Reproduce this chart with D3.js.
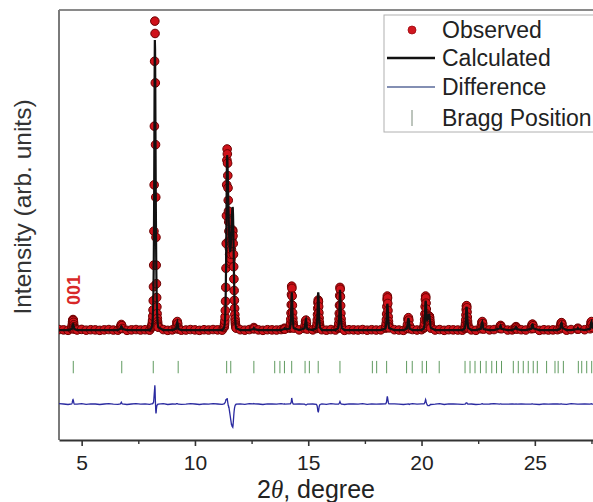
<!DOCTYPE html>
<html><head><meta charset="utf-8">
<script src="https://cdn.jsdelivr.net/npm/d3@7"></script>
<style>html,body{margin:0;padding:0;background:#fff;} svg{display:block;font-family:"Liberation Sans",Arial,sans-serif;}</style>
</head><body><svg id="c" width="593" height="502"></svg>
<script>
// ---------------- data ----------------
const xTicks = [5, 10, 15, 20, 25];
const xMinorTicks = [7.5, 12.5, 17.5, 22.5, 27.5];
const legendLabels = ["Observed", "Calculated", "Difference", "Bragg Position"];
const peakLabel = {text: "001", twoTheta: 4.62};

// Bragg reflection positions (2θ, degree)
const braggPositions = [4.63, 6.77, 8.16, 9.26, 11.40, 11.58, 12.60, 13.52, 13.75, 13.95, 14.27,
  14.86, 15.05, 15.44, 16.40, 17.83, 18.02, 18.46, 19.34, 19.59, 20.03, 20.22, 20.78,
  21.92, 22.14, 22.36, 22.60, 22.85, 23.10, 23.31, 23.53, 24.05, 24.27, 24.49, 24.71,
  24.93, 25.11, 25.52, 25.89, 26.03, 26.26, 26.92, 27.07, 27.29, 27.51];

// points across the reflections: [2θ, observed, calculated]
const peakPoints = [
  [4.56,0.4,0.3],[4.57,0.7,0.5],[4.58,1.2,0.8],[4.59,1.9,1.2],[4.60,2.7,1.6],[4.61,3.2,1.8],[4.62,3.4,1.9],
  [4.63,3.1,1.8],[4.64,2.5,1.5],[4.65,1.7,1.1],[4.66,1.1,0.8],[4.67,0.6,0.5],[4.68,0.3,0.3],
  [6.71,0.5,0.4],[6.73,1.3,1.0],[6.75,1.8,1.2],[6.77,1.4,1.1],[6.79,0.5,0.4],
  [8.08,0.8,0.7],[8.09,1.0,0.9],[8.10,1.3,1.2],[8.11,1.7,1.6],[8.12,2.3,2.2],[8.13,3.2,3.0],[8.14,4.5,4.3],
  [8.15,6.5,6.2],[8.16,9.5,9.0],[8.17,14,13.5],[8.18,21,20],[8.19,32,30],[8.20,47,44],[8.21,66,62],
  [8.22,87,82],[8.23,100,93.9],[8.24,96,91],[8.25,80,78],[8.26,60,60],[8.27,43,45],[8.28,30,33],
  [8.29,21,23.5],[8.30,15,16.5],[8.31,10.5,11.5],[8.32,7.5,8],[8.33,5.3,5.6],[8.34,3.8,4],[8.35,2.7,2.8],
  [8.36,1.9,2.0],[8.37,1.3,1.3],[8.38,0.9,0.9],
  [9.16,0.4,0.4],[9.18,1.2,1.0],[9.20,2.4,2.2],[9.22,2.75,2.6],[9.24,2.0,1.9],[9.26,0.8,0.8],[9.28,0.3,0.3],
  [11.28,0.8,0.7],[11.29,1.1,1.0],[11.30,1.5,1.3],[11.31,2.1,1.8],[11.32,3.0,2.6],[11.33,4.3,3.8],
  [11.34,6.3,5.6],[11.35,9.3,8.4],[11.36,13.8,12.6],[11.37,20,18.5],[11.38,28,26.5],[11.39,37,35.5],
  [11.40,47,45.5],[11.41,55,53.5],[11.42,58.6,56.6],[11.43,57,55.5],[11.44,54,53],[11.45,50,49.5],
  [11.46,46,46],[11.47,42,42.5],[11.48,38.5,39],[11.49,35,36],[11.50,32,33],[11.51,29,30.5],
  [11.52,26.5,28.5],[11.53,24.5,27],[11.54,23,26],[11.55,22,25.5],[11.56,21.5,25.5],[11.57,21.5,26],
  [11.58,22,27],[11.59,23,28.5],[11.60,24.5,30.5],[11.61,26,32.5],[11.62,28,34.5],[11.63,29.5,36.5],
  [11.64,31,38],[11.65,32,39.2],[11.66,32.4,39.8],[11.67,32,39.5],[11.68,30.5,37.5],[11.69,28,34],
  [11.70,24.5,29.5],[11.71,20.5,24.5],[11.72,16.5,19.5],[11.73,12.8,15],[11.74,9.6,11.2],[11.75,7.0,8.1],
  [11.76,5.0,5.8],[11.77,3.6,4.1],[11.78,2.6,2.9],[11.79,1.8,2.0],[11.80,1.3,1.4],[11.81,0.9,1.0],[11.82,0.6,0.6],
  [12.58,0.4,0.3],[12.60,0.8,0.6],[12.62,0.4,0.3],
  [13.93,0.3,0.3],[13.95,0.6,0.5],[13.97,0.3,0.3],
  [14.19,0.6,0.5],[14.20,0.9,0.8],[14.21,1.4,1.3],[14.22,2.2,2.0],[14.23,3.5,3.2],[14.24,5.5,5.0],
  [14.25,8.2,7.4],[14.26,11.5,10.2],[14.27,14.2,12.2],[14.28,13.5,11.8],[14.29,11,9.8],[14.30,8,7.3],
  [14.31,5.6,5.1],[14.32,3.8,3.5],[14.33,2.5,2.4],[14.34,1.6,1.5],[14.35,1.0,1.0],[14.36,0.6,0.6],
  [14.84,0.5,0.5],[14.86,1.5,1.6],[14.88,2.8,3.0],[14.90,3.2,3.4],[14.92,2.3,2.5],[14.94,1.0,1.1],[14.96,0.3,0.3],
  [15.36,0.5,0.6],[15.37,0.8,1.0],[15.38,1.3,1.6],[15.39,2.1,2.6],[15.40,3.3,4.2],[15.41,5.0,6.4],
  [15.42,7.0,9.0],[15.43,8.8,11.2],[15.44,9.7,12.2],[15.45,9.2,11.6],[15.46,7.6,9.6],[15.47,5.6,7.0],
  [15.48,3.9,4.8],[15.49,2.6,3.2],[15.50,1.7,2.1],[15.51,1.1,1.3],[15.52,0.7,0.8],
  [16.32,0.6,0.6],[16.33,0.9,0.9],[16.34,1.4,1.4],[16.35,2.2,2.1],[16.36,3.5,3.3],[16.37,5.4,5.1],
  [16.38,8.0,7.6],[16.39,11.2,10.6],[16.40,13.8,13.0],[16.41,13.2,12.6],[16.42,10.8,10.4],[16.43,7.9,7.6],
  [16.44,5.4,5.2],[16.45,3.6,3.5],[16.46,2.3,2.3],[16.47,1.5,1.5],[16.48,0.9,0.9],[16.49,0.6,0.6],
  [18.41,0.6,0.5],[18.42,0.9,0.8],[18.43,1.4,1.2],[18.44,2.2,1.8],[18.45,3.4,2.8],[18.46,5.2,4.2],
  [18.47,7.6,6.0],[18.48,9.9,7.8],[18.49,11.0,8.5],[18.50,10.4,8.2],[18.51,8.6,6.9],[18.52,6.3,5.1],
  [18.53,4.3,3.6],[18.54,2.8,2.4],[18.55,1.8,1.6],[18.56,1.1,1.0],[18.57,0.7,0.6],
  [19.36,0.5,0.5],[19.38,1.8,1.8],[19.40,3.4,3.3],[19.42,4,3.9],[19.44,3.2,3.2],[19.46,1.5,1.6],[19.48,0.4,0.4],
  [20.10,0.6,0.5],[20.11,0.9,0.8],[20.12,1.4,1.2],[20.13,2.2,1.9],[20.14,3.4,3.0],[20.15,5.2,4.6],
  [20.16,7.6,6.7],[20.17,9.9,8.7],[20.18,11.0,9.5],[20.19,10.4,9.1],[20.20,8.7,7.8],[20.21,6.8,6.2],
  [20.22,5.2,4.9],[20.23,4.0,3.9],[20.24,3.3,3.4],[20.25,3.0,3.2],[20.26,3.0,3.3],[20.27,3.2,3.6],
  [20.28,3.5,4.0],[20.29,3.7,4.2],[20.30,3.9,4.4],[20.31,4.2,4.7],[20.32,4.4,4.9],[20.33,4.5,5.0],
  [20.34,4.5,5.0],[20.35,4.3,4.7],[20.36,3.8,4.1],[20.37,3.0,3.3],[20.38,2.2,2.4],[20.39,1.5,1.6],
  [20.40,1.0,1.1],[20.41,0.6,0.7],
  [21.91,0.5,0.5],[21.92,0.8,0.8],[21.93,1.3,1.2],[21.94,2.1,2.0],[21.95,3.3,3.1],[21.96,4.9,4.6],
  [21.97,6.6,6.2],[21.98,7.7,7.3],[21.99,7.9,7.5],[22.00,7.2,6.8],[22.01,5.8,5.5],[22.02,4.2,4.0],
  [22.03,2.9,2.8],[22.04,1.9,1.8],[22.05,1.2,1.2],[22.06,0.7,0.7],
  [22.62,0.4,0.4],[22.64,1.4,1.3],[22.66,2.4,2.3],[22.68,2.75,2.6],[22.70,2.1,2.0],[22.72,0.9,0.9],[22.74,0.3,0.3],
  [23.45,0.5,0.5],[23.47,1.2,1.1],[23.49,1.5,1.4],[23.51,1.1,1.0],[23.53,0.4,0.4],
  [24.13,0.4,0.4],[24.15,0.9,0.9],[24.17,1.1,1.0],[24.19,0.8,0.8],[24.21,0.3,0.3],
  [24.84,0.4,0.4],[24.86,1.2,1.1],[24.88,1.8,1.7],[24.90,1.9,1.8],[24.92,1.4,1.4],[24.94,0.5,0.5],
  [26.12,0.4,0.4],[26.14,1.4,1.3],[26.16,2.2,2.1],[26.18,2.4,2.3],[26.20,1.8,1.8],[26.22,0.7,0.7],
  [26.88,0.3,0.3],[26.90,0.6,0.6],[26.92,0.3,0.3],
  [27.44,0.4,0.4],[27.46,1.4,1.3],[27.48,2.4,2.3],[27.50,2.75,2.6],[27.52,2.0,2.0],[27.54,0.8,0.8]
];

// background observations, one every 0.2° from 4.0° to 28.0°
const bgStart = 4.0, bgStep = 0.2;
const bgObs = [
  0.15,0.05,-0.1,0.1,0.0,0.2,-0.05,0.1,0.05,-0.1,
  0.05,0.15,0.0,-0.05,0.1,-0.1,0.05,0.15,0.0,0.1,
  -0.05,0.1,0.0,0.15,-0.1,0.05,0.1,-0.05,0.0,0.15,
  0.05,-0.1,0.1,0.0,0.15,0.05,-0.05,0.1,0.0,0.05,
  0.1,-0.05,0.15,0.0,0.05,-0.1,0.1,0.05,0.0,0.15,
  -0.05,0.1,0.0,0.05,0.15,-0.1,0.05,0.0,0.1,-0.05,
  0.15,0.0,0.05,-0.1,0.1,0.05,0.0,0.15,-0.05,0.1,
  0.0,0.05,-0.05,0.15,0.1,0.0,-0.1,0.05,0.15,0.0,
  0.1,-0.05,0.05,0.0,0.15,-0.1,0.1,0.05,0.0,-0.05,
  0.15,0.05,-0.1,0.1,0.0,0.05,0.15,-0.05,0.1,0.0,
  0.05,-0.05,0.1,0.0,0.15,0.05,-0.1,0.1,0.0,0.05,
  0.1,0.0,-0.05,0.15,0.05,-0.1,0.1,0.0,0.05,0.15,
  0.0
];
const calcBackground = 0;      // refined background level
const diffOffset = -24;        // vertical offset of the difference curve
const braggRange = [-10, -14]; // vertical extent of Bragg markers

// ---------------- build series ----------------
const bgPoints = bgObs.map((v, i) => [+(bgStart + i * bgStep).toFixed(2), v, calcBackground])
  .filter(p => !peakPoints.some(q => Math.abs(q[0] - p[0]) < 0.08));
const allPoints = bgPoints.concat(peakPoints).sort((a, b) => a[0] - b[0]);

// ---------------- chart ----------------
const W = 593, H = 502;
const svg = d3.select("#c");
const x = d3.scaleLinear().domain([4, 28]).range([59, 602.8]);
const y = d3.scaleLinear().domain([-35.6, 103.6]).range([440, 10]);

svg.append("defs").append("clipPath").attr("id", "clip")
  .append("rect").attr("x", 59).attr("y", 10).attr("width", 544).attr("height", 430);

// frame
svg.append("line").attr("x1", 59).attr("x2", W).attr("y1", 10).attr("y2", 10)
  .attr("stroke", "#8a8a8a").attr("stroke-width", 2);
svg.append("line").attr("x1", 59).attr("x2", 59).attr("y1", 10).attr("y2", 440)
  .attr("stroke", "#7a7a7a").attr("stroke-width", 2);

const plot = svg.append("g").attr("clip-path", "url(#clip)");

// Bragg markers
plot.selectAll("line.bragg").data(braggPositions).join("line").attr("class", "bragg")
  .attr("x1", d => x(d)).attr("x2", d => x(d))
  .attr("y1", y(braggRange[0])).attr("y2", y(braggRange[1]))
  .attr("stroke", "#5f9a5f").attr("stroke-width", 1);

// difference
plot.append("path").datum(allPoints)
  .attr("d", d3.line().x(d => x(d[0])).y(d => y(diffOffset + d[1] - d[2])))
  .attr("fill", "none").attr("stroke", "#2a2aa0").attr("stroke-width", 1.3);

// observed
plot.selectAll("circle.obs").data(allPoints).join("circle").attr("class", "obs")
  .attr("cx", d => x(d[0])).attr("cy", d => y(d[1])).attr("r", 4.3)
  .attr("fill", "#cf121a").attr("stroke", "#6a0000").attr("stroke-width", 1);

// calculated
plot.append("path").datum(allPoints)
  .attr("d", d3.line().x(d => x(d[0])).y(d => y(d[2])))
  .attr("fill", "none").attr("stroke", "#111").attr("stroke-width", 2.2);

// x axis
const ax = svg.append("g").attr("transform", "translate(0,440)")
  .call(d3.axisBottom(x).tickValues(xTicks).tickSize(6).tickPadding(9).tickSizeOuter(0));
ax.select(".domain").attr("stroke", "#333").attr("stroke-width", 2);
ax.selectAll(".tick line").attr("stroke", "#333").attr("stroke-width", 1.6);
ax.selectAll(".tick text").attr("font-size", 21).attr("fill", "#222")
  .attr("font-family", "Liberation Sans, Arial, sans-serif");
const axm = svg.append("g").attr("transform", "translate(0,440)")
  .call(d3.axisBottom(x).tickValues(xMinorTicks).tickSize(4).tickFormat(""));
axm.select(".domain").remove();
axm.selectAll(".tick line").attr("stroke", "#333").attr("stroke-width", 1.4);

// axis titles
const xt = svg.append("text").attr("x", 316).attr("y", 497.5).attr("text-anchor", "middle")
  .attr("font-size", 25).attr("fill", "#222");
xt.append("tspan").text("2");
xt.append("tspan").attr("font-style", "italic").attr("font-family", "Liberation Serif, serif").text("θ");
xt.append("tspan").text(", degree");

svg.append("text").attr("transform", "translate(31,207) rotate(-90)")
  .attr("text-anchor", "middle").attr("font-size", 24.5).attr("fill", "#333")
  .text("Intensity (arb. units)");

// peak label
svg.append("text").attr("transform", `translate(${x(peakLabel.twoTheta) + 7},290) rotate(-90)`)
  .attr("text-anchor", "middle").attr("font-size", 18).attr("font-weight", "bold")
  .attr("fill", "#d82828").text(peakLabel.text);

// legend
const lg = svg.append("g");
lg.append("rect").attr("x", 384).attr("y", 15).attr("width", 230).attr("height", 117)
  .attr("fill", "#fff").attr("stroke", "#b0b0b0").attr("stroke-width", 1);
const rowsY = [30, 58, 87, 118];
lg.append("circle").attr("cx", 412).attr("cy", rowsY[0]).attr("r", 4)
  .attr("fill", "#d01820").attr("stroke", "#a00a10").attr("stroke-width", 0.8);
lg.append("line").attr("x1", 387).attr("x2", 435).attr("y1", rowsY[1]).attr("y2", rowsY[1])
  .attr("stroke", "#111").attr("stroke-width", 2.5);
lg.append("line").attr("x1", 387).attr("x2", 435).attr("y1", rowsY[2]).attr("y2", rowsY[2])
  .attr("stroke", "#5a6a9a").attr("stroke-width", 1.5);
lg.append("line").attr("x1", 412).attr("x2", 412).attr("y1", rowsY[3] - 8).attr("y2", rowsY[3] + 8)
  .attr("stroke", "#7a8a7a").attr("stroke-width", 1);
lg.selectAll("text").data(legendLabels).join("text")
  .attr("x", 442).attr("y", (d, i) => rowsY[i] + 8)
  .attr("font-size", 23).attr("fill", "#222").text(d => d);
</script></body></html>
